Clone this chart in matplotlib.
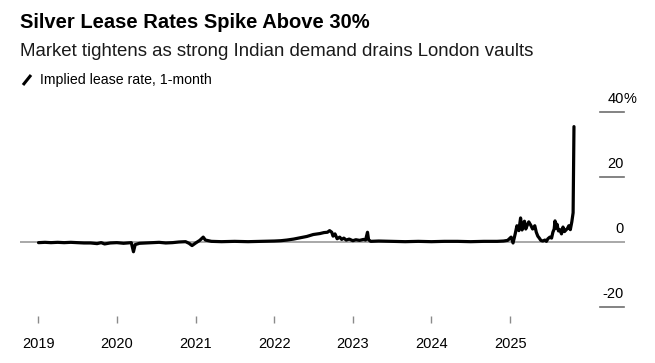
# -*- coding: utf-8 -*-
"""
Output: out.png
Silver lease rates, implied 1-month
"""

import pandas as pd
import matplotlib.pyplot as plt
from matplotlib.lines import Line2D

plt.rcParams['font.family'] = ['Liberation Sans', 'DejaVu Sans']

# data (percent)
dates = [
    "2019-01-02", "2019-02-01", "2019-03-01", "2019-04-01", "2019-05-01", "2019-06-01",
    "2019-07-01", "2019-08-01", "2019-09-01", "2019-10-01", "2019-10-20", "2019-11-05",
    "2019-12-01", "2020-01-01", "2020-02-01", "2020-03-08", "2020-03-18", "2020-03-26",
    "2020-04-15", "2020-05-15", "2020-06-15", "2020-07-15", "2020-08-15", "2020-09-15",
    "2020-10-15", "2020-11-15", "2020-12-01", "2020-12-15", "2021-01-01", "2021-01-20",
    "2021-02-05", "2021-02-15", "2021-03-15", "2021-05-01", "2021-07-01", "2021-09-01",
    "2021-11-01", "2022-01-01", "2022-02-01", "2022-03-01", "2022-04-01", "2022-05-01",
    "2022-06-01", "2022-07-01", "2022-08-01", "2022-08-20", "2022-09-05", "2022-09-15",
    "2022-09-25", "2022-10-01", "2022-10-10", "2022-10-20", "2022-11-01", "2022-11-10",
    "2022-11-20", "2022-12-01", "2022-12-15", "2023-01-01", "2023-01-15", "2023-02-01",
    "2023-02-20", "2023-03-01", "2023-03-10", "2023-03-15", "2023-03-25", "2023-05-01",
    "2023-07-01", "2023-09-01", "2023-11-01", "2024-01-01", "2024-03-01", "2024-05-01",
    "2024-07-01", "2024-09-01", "2024-11-01", "2024-12-01", "2024-12-20", "2025-01-05",
    "2025-01-14", "2025-01-24", "2025-02-01", "2025-02-10", "2025-02-18", "2025-02-25",
    "2025-03-01", "2025-03-08", "2025-03-14", "2025-03-20", "2025-03-28", "2025-04-06",
    "2025-04-15", "2025-04-25", "2025-05-02", "2025-05-09", "2025-05-16", "2025-05-23",
    "2025-06-01", "2025-06-11", "2025-06-18", "2025-06-25", "2025-07-04", "2025-07-12",
    "2025-07-18", "2025-07-24", "2025-07-28", "2025-08-02", "2025-08-06", "2025-08-13",
    "2025-08-20", "2025-08-27", "2025-09-03", "2025-09-10", "2025-09-17", "2025-09-24",
    "2025-09-30", "2025-10-07", "2025-10-14", "2025-10-20", "2025-10-24",
]
rates = [
    -0.2, -0.1, -0.2, -0.1, -0.2, -0.1,
    -0.2, -0.3, -0.3, -0.5, -0.2, -0.6,
    -0.3, -0.2, -0.4, -0.2, -3.0, -0.8,
    -0.4, -0.3, -0.2, -0.1, -0.3, -0.2,
    0.0, 0.1, -0.4, -1.1, -0.3, 0.5,
    1.5, 0.6, 0.2, 0.1, 0.2, 0.1,
    0.2, 0.3, 0.4, 0.6, 0.9, 1.3,
    1.7, 2.3, 2.6, 2.9, 3.0, 3.5,
    3.0, 1.8, 2.5, 1.0, 1.5, 0.8,
    1.2, 0.6, 0.9, 0.4, 0.7, 0.5,
    0.8, 0.6, 3.0, 0.7, 0.2, 0.3,
    0.2, 0.1, 0.2, 0.1, 0.2, 0.2,
    0.1, 0.2, 0.2, 0.3, 0.5, 1.5,
    -0.3, 2.5, 5.0, 3.5, 7.4, 3.7,
    4.6, 6.4, 4.0, 5.0, 6.2, 5.2,
    4.0, 5.0, 3.0, 1.8, 1.2, 0.5,
    0.3, 0.6, 0.2, 1.0, 1.5, 1.2,
    3.0, 4.0, 6.5, 4.3, 5.5, 3.4,
    3.8, 2.5, 4.6, 3.2, 3.7, 4.2,
    5.0, 3.8, 6.2, 9.0, 35.5,
]
year_ticks = ["2019", "2020", "2021", "2022", "2023", "2024", "2025"]
y_ticks = [40, 20, 0, -20]

series = pd.Series(rates, index=pd.to_datetime(dates))

W, H = 655, 363
fig = plt.figure(figsize=(W / 100, H / 100), dpi=100)

# axes placed in pixel terms: left 20, right 625, top 100, bottom 316
ax = fig.add_axes([20 / W, 1 - 316 / H, 605 / W, 216 / H])
ax.set_xlim(pd.Timestamp("2018-10-08"), pd.Timestamp("2026-06-18"))
ax.set_ylim((242 - 316) / 3.25, (242 - 100) / 3.25)

ax.axhline(0, color="#9a9a9a", lw=1.2, zorder=1)
ax.plot(series.index, series.values, color="black", lw=2.3, zorder=3,
        solid_joinstyle="round", solid_capstyle="round")

for s in ax.spines.values():
    s.set_visible(False)
ax.set_yticks([])
ax.set_xticks([pd.Timestamp(y + "-01-01") for y in year_ticks])
ax.set_xticklabels(year_ticks)
ax.tick_params(axis="x", length=5, width=1, color="#8a8a8a", pad=10,
               labelsize=10.5, labelcolor="black")

# right hand value labels, each with a short rule beneath
trans = ax.get_yaxis_transform()
x0, x1 = (600 - 20) / 605, (624 - 20) / 605
for v in y_ticks:
    if v != 0:
        ax.plot([x0, x1], [v, v], transform=trans, color="#6e6e6e", lw=1.2,
                clip_on=False)
    ax.annotate(str(v), xy=(x1, v), xycoords=trans, xytext=(0, 4),
                textcoords="offset points", ha="right", va="bottom", fontsize=10.5)
    if v == 40:
        ax.annotate("%", xy=(x1, v), xycoords=trans, xytext=(0, 4),
                    textcoords="offset points", ha="left", va="bottom", fontsize=10.5)

# titles
fig.text(20 / W, 1 - 22 / H, "Silver Lease Rates Spike Above 30%", fontsize=14.5,
         fontweight="bold", va="center", ha="left")
fig.text(20 / W, 1 - 52 / H, "Market tightens as strong Indian demand drains London vaults",
         fontsize=13.4, va="center", ha="left", color="#1a1a1a")

# legend
fig.add_artist(Line2D([23 / W, 31 / W], [1 - 85 / H, 1 - 75 / H], color="black", lw=2.2,
                      solid_capstyle="butt"))
fig.text(40 / W, 1 - 80 / H, "Implied lease rate, 1-month", fontsize=10.2, va="center",
         ha="left")

plt.savefig("out.png", dpi=100, facecolor="white")
